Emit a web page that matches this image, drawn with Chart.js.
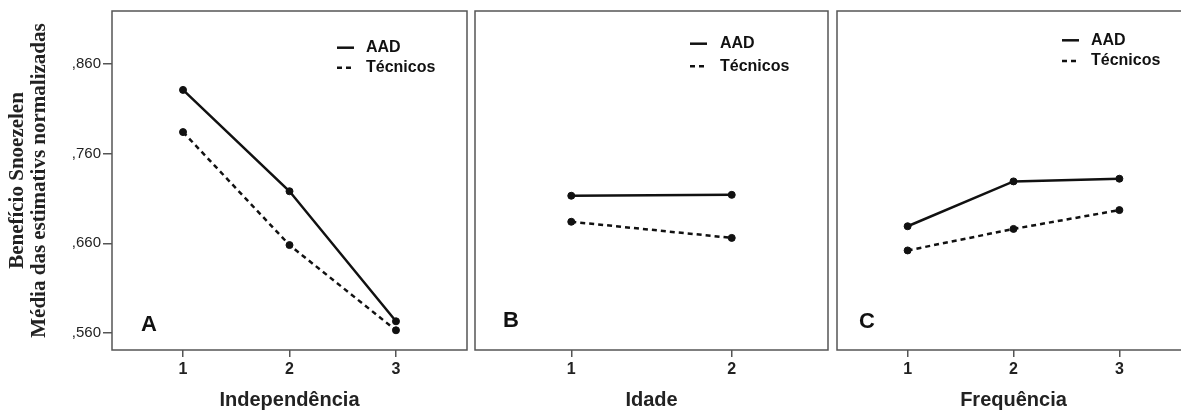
<!DOCTYPE html>
<html lang="pt">
<head>
<meta charset="utf-8">
<title>Benefício Snoezelen</title>
<script src="https://cdn.jsdelivr.net/npm/chart.js@4.4.1/dist/chart.umd.min.js"></script>
<style>
  html, body { margin: 0; padding: 0; background: #fff; overflow: hidden; }
  #wrap { position: relative; width: 1181px; height: 413px; overflow: hidden; }
  #wrap canvas { position: absolute; top: 0; }
  #chartA { left: 0; }
  #chartB { left: 470px; }
  #chartC { left: 832px; }
</style>
</head>
<body>
<div id="wrap">
  <canvas id="chartA" width="480" height="413"></canvas>
  <canvas id="chartB" width="370" height="413"></canvas>
  <canvas id="chartC" width="370" height="413"></canvas>
</div>
<script>
// Escala comum dos três painéis
const yTicks = [0.56, 0.66, 0.76, 0.86];
const yMin = 0.541;
const yMax = 0.919;

// A - Independência
const independencia = [1, 2, 3];
const aadIndependencia = [0.831, 0.718, 0.573];
const tecIndependencia = [0.784, 0.658, 0.563];

// B - Idade
const idade = [1, 2];
const aadIdade = [0.713, 0.714];
const tecIdade = [0.684, 0.666];

// C - Frequência
const frequencia = [1, 2, 3];
const aadFrequencia = [0.679, 0.729, 0.732];
const tecFrequencia = [0.652, 0.676, 0.697];

const SANS = "'Liberation Sans', Arial, sans-serif";
const SERIF = "'Liberation Serif', 'Times New Roman', serif";
const INK = "#111";

// moldura, letra do painel e legenda dentro da área do gráfico
const panelDecor = {
  id: "panelDecor",
  afterDatasetsDraw(chart, args, opts) {
    const { ctx, chartArea: a } = chart;
    ctx.save();
    ctx.strokeStyle = "#555";
    ctx.lineWidth = 1.5;
    ctx.strokeRect(a.left, a.top, a.right - a.left, a.bottom - a.top);

    ctx.fillStyle = INK;
    ctx.font = "bold 22px " + SANS;
    ctx.textAlign = "left";
    ctx.textBaseline = "alphabetic";
    ctx.fillText(opts.letter, a.left + opts.letterX, a.bottom - opts.letterY);

    chart.data.datasets.forEach((ds, i) => {
      const y = a.top + opts.legendY[i];
      const x0 = a.right - opts.lineX;
      ctx.beginPath();
      ctx.setLineDash(ds.borderDash || []);
      ctx.lineWidth = 2.5;
      ctx.strokeStyle = INK;
      ctx.moveTo(x0, y);
      ctx.lineTo(x0 + (ds.borderDash ? 14 : 17), y);
      ctx.stroke();
      ctx.setLineDash([]);
      ctx.font = "bold 16px " + SANS;
      ctx.textBaseline = "middle";
      ctx.fillText(ds.label, a.right - opts.textX, y);
    });
    ctx.restore();
  },
};

function serie(label, xs, ys, dash) {
  return {
    label,
    data: xs.map((x, i) => ({ x, y: ys[i] })),
    borderColor: INK,
    backgroundColor: INK,
    borderWidth: 2.5,
    borderDash: dash,
    pointRadius: 3.5,
    pointBackgroundColor: INK,
    pointBorderColor: INK,
    pointBorderWidth: 1,
    tension: 0,
  };
}

function makeChart(id, xs, aad, tec, xMin, xMax, xTitle, showY, padding, decor) {
  return new Chart(document.getElementById(id), {
    type: "line",
    data: {
      datasets: [
        serie("AAD", xs, aad, undefined),
        serie("Técnicos", xs, tec, [5, 4]),
      ],
    },
    options: {
      responsive: false,
      animation: false,
      layout: { padding },
      plugins: {
        legend: { display: false },
        tooltip: { enabled: false },
        panelDecor: decor,
      },
      scales: {
        x: {
          type: "linear",
          min: xMin,
          max: xMax,
          afterBuildTicks: (s) => { s.ticks = xs.map((v) => ({ value: v })); },
          afterFit: (s) => { s.height = 63; },
          border: { display: false },
          grid: { drawOnChartArea: false, tickLength: 7, color: "#555", lineWidth: 1.5 },
          ticks: {
            padding: 3,
            color: "#222",
            font: { family: SANS, size: 16, weight: "bold" },
            callback: (v) => String(v),
          },
          title: {
            display: true,
            text: xTitle,
            color: "#222",
            padding: { top: 0, bottom: 1 },
            font: { family: SANS, size: 20, weight: "bold", lineHeight: 1.2 },
          },
        },
        y: {
          type: "linear",
          display: showY,
          min: yMin,
          max: yMax,
          afterBuildTicks: (s) => { s.ticks = yTicks.map((v) => ({ value: v })); },
          afterFit: (s) => { s.width = showY ? 112 : 0; },
          border: { display: false },
          grid: { drawOnChartArea: false, tickLength: 9, color: "#555", lineWidth: 1.5 },
          ticks: {
            padding: 2,
            color: "#222",
            font: { family: SANS, size: 15 },
            callback: (v) => v.toFixed(3).replace(/^0\./, ","),
          },
          title: {
            display: true,
            text: ["Benefício Snoezelen", "Média das estimativs normalizadas"],
            color: "#222",
            padding: { top: 7, bottom: 0 },
            font: { family: SERIF, size: 21, weight: "bold", lineHeight: 1.05 },
          },
        },
      },
    },
    plugins: [panelDecor],
  });
}

makeChart("chartA", independencia, aadIndependencia, tecIndependencia, 0.333, 3.667,
  "Independência", true, { top: 11, right: 13, left: 0, bottom: 0 },
  { letter: "A", letterX: 29, letterY: 19, lineX: 130, textX: 101, legendY: [36.7, 56.7] });

makeChart("chartB", idade, aadIdade, tecIdade, 0.4, 2.6,
  "Idade", false, { top: 11, right: 12, left: 4, bottom: 0 },
  { letter: "B", letterX: 28, letterY: 23, lineX: 138, textX: 108, legendY: [32.7, 55.3] });

makeChart("chartC", frequencia, aadFrequencia, tecFrequencia, 0.333, 3.667,
  "Frequência", false, { top: 11, right: 12, left: 4, bottom: 0 },
  { letter: "C", letterX: 22, letterY: 22, lineX: 128, textX: 99, legendY: [29.3, 50] });
</script>
</body>
</html>
